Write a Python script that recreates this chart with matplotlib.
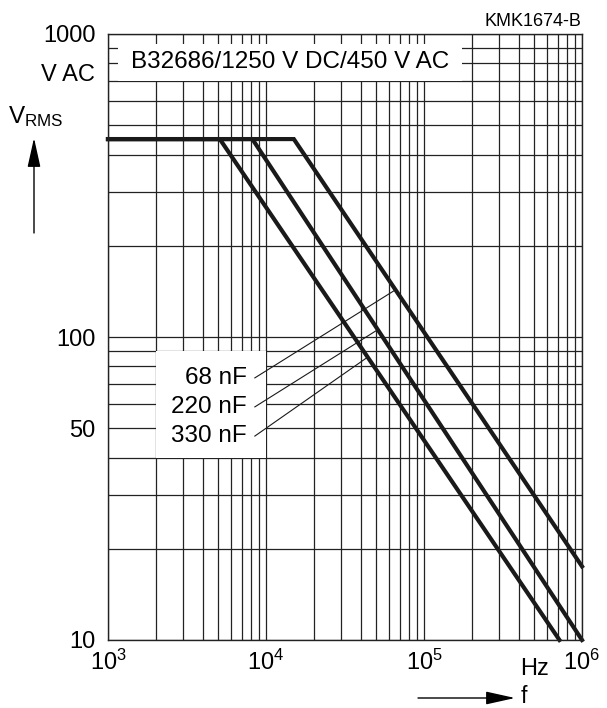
import numpy as np
import matplotlib
matplotlib.use("Agg")
import matplotlib.pyplot as plt
from matplotlib.patches import Rectangle
from matplotlib.ticker import FixedLocator, NullFormatter
import matplotlib.transforms as mtransforms

# fonts (Helvetica look-alike)
plt.rcParams["font.family"] = ["Liberation Sans", "DejaVu Sans"]
plt.rcParams["mathtext.fontset"] = "custom"
plt.rcParams["mathtext.rm"] = "Liberation Sans"
plt.rcParams["mathtext.it"] = "Liberation Sans:italic"

# curve data: (frequency Hz, V rms)
labels = ["68 nF", "220 nF", "330 nF"]
f_68 = [1e3, 1.5e4, 1e6]
v_68 = [450, 450, 17.5]
f_220 = [1e3, 8.2e3, 1e6]
v_220 = [450, 450, 10]
f_330 = [1e3, 5.1e3, 7.2e5]
v_330 = [450, 450, 10]
curves = [(f_68, v_68), (f_220, v_220), (f_330, v_330)]

# label positions and leader end frequencies
label_x = 7.6e3
label_y = [73.3, 58.8, 47.1]
leader_start_x = 8.5e3
leader_end_x = [6.6e4, 5.1e4, 4.4e4]

x_ticks = [1e3, 1e4, 1e5, 1e6]
x_ticklabels = [r"$\mathregular{10^3}$", r"$\mathregular{10^4}$",
                r"$\mathregular{10^5}$", r"$\mathregular{10^6}$"]
y_ticks = [10, 50, 100, 1000]
y_ticklabels = ["10", "50", "100", "1000"]

W, H = 607, 708
fig = plt.figure(figsize=(W / 100, H / 100), dpi=100)
ax = fig.add_axes([108 / W, 68 / H, 474 / W, 606 / H])
ax.set_xscale("log")
ax.set_yscale("log")
ax.set_xlim(1e3, 1e6)
ax.set_ylim(10, 1000)

# grid: all decade sub-divisions
ax.set_axisbelow(True)
minors_x = [m * 10 ** e for e in range(3, 6) for m in range(2, 10)]
minors_y = [m * 10 ** e for e in range(1, 3) for m in range(2, 10)]
ax.xaxis.set_minor_locator(FixedLocator(minors_x))
ax.yaxis.set_minor_locator(FixedLocator(minors_y))
ax.xaxis.set_minor_formatter(NullFormatter())
ax.yaxis.set_minor_formatter(NullFormatter())
ax.grid(which="both", color="#222222", lw=0.9)
ax.set_xticks(x_ticks)
ax.set_xticklabels(x_ticklabels)
ax.set_yticks(y_ticks)
ax.set_yticklabels(y_ticklabels)
ax.tick_params(which="both", length=0, labelsize=17)
ax.tick_params(axis="y", pad=9)
ax.tick_params(axis="x", pad=7)
for s in ax.spines.values():
    s.set_linewidth(1.0)
    s.set_color("#222222")

# white boxes covering the grid
ax.add_patch(Rectangle((1.15e3, 700), 1.75e5 - 1.15e3, 930 - 700,
                       facecolor="white", edgecolor="none", zorder=1))
ax.add_patch(Rectangle((2e3, 40), 1e4 - 2e3, 90 - 40,
                       facecolor="white", edgecolor="none", zorder=1))
ax.text(np.sqrt(1.15e3 * 1.75e5), np.sqrt(700 * 930), "B32686/1250 V DC/450 V AC",
        ha="center", va="center", fontsize=17.5, zorder=3)

# curves
for fx, vy in curves:
    ax.plot(fx, vy, color="#1a1a1a", lw=3.0, solid_joinstyle="miter", zorder=2, clip_on=False)

# labels with leader lines
for lab, ly, ex, (fx, vy) in zip(labels, label_y, leader_end_x, curves):
    ax.text(label_x, ly, lab, ha="right", va="center", fontsize=17.5, zorder=3)
    ey = 10 ** np.interp(np.log10(ex), np.log10(fx), np.log10(vy))
    ax.plot([leader_start_x, ex], [ly, ey], color="#1a1a1a", lw=0.8, zorder=3)

# extra axis texts
trans_y = mtransforms.blended_transform_factory(ax.transAxes, ax.transData)
ax.text(-13 / 474, 730, "V AC", transform=trans_y, ha="right", va="center", fontsize=17)
fig.text(535 / W, 1 - 675 / H, "Hz", ha="center", va="baseline", fontsize=17)
fig.text(581 / W, 1 - 22 / H, "KMK1674-B", ha="right", va="center", fontsize=13)
fig.text(8 / W, 1 - 123 / H, r"$\mathregular{V_{RMS}}$", ha="left", va="baseline", fontsize=17.5)
fig.text(521 / W, 1 - 703 / H, "f", ha="left", va="baseline", fontsize=16.5)

# axis arrows
ax.annotate("", xy=(34 / W, 1 - 138 / H), xytext=(34 / W, 1 - 233 / H),
            xycoords="figure fraction", textcoords="figure fraction",
            arrowprops=dict(arrowstyle="-|>,head_length=0.9,head_width=0.2",
                            mutation_scale=20, lw=1, color="black", shrinkA=0, shrinkB=0))
ax.annotate("", xy=(515 / W, 1 - 698 / H), xytext=(418 / W, 1 - 698 / H),
            xycoords="figure fraction", textcoords="figure fraction",
            arrowprops=dict(arrowstyle="-|>,head_length=0.9,head_width=0.2",
                            mutation_scale=20, lw=1, color="black", shrinkA=0, shrinkB=0))

fig.savefig("out.png", dpi=100)
